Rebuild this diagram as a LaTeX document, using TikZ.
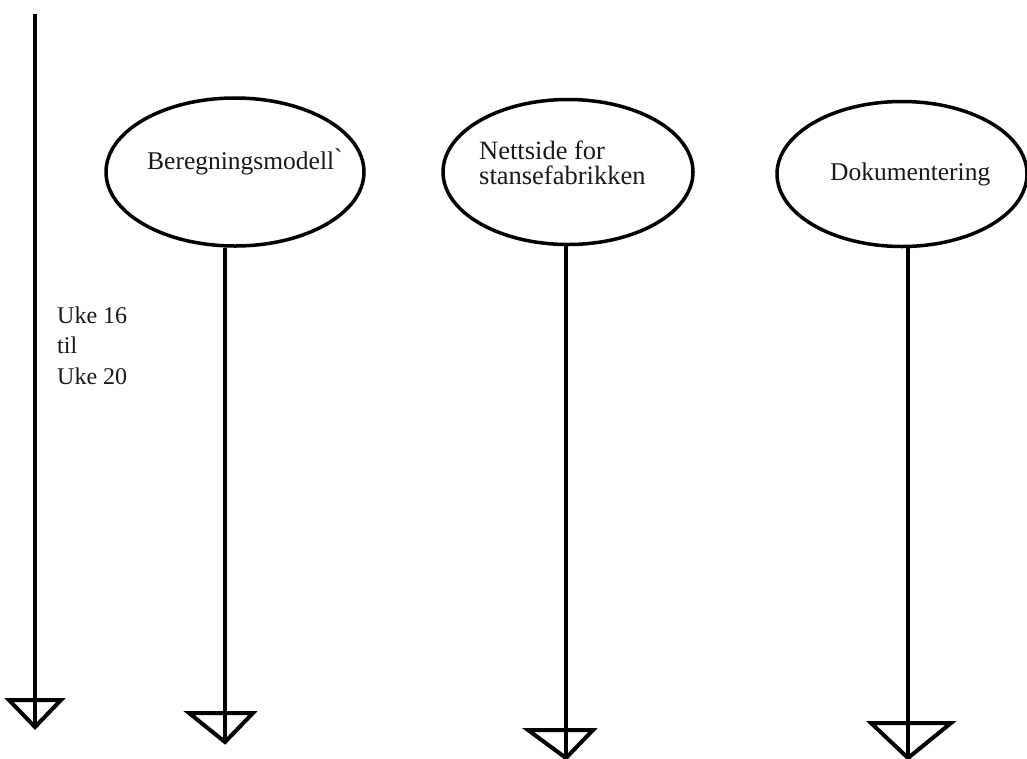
\documentclass[tikz,border=0pt]{standalone}
\usepackage{fontspec}
\setmainfont{Liberation Serif}
\usetikzlibrary{shapes.geometric}
\begin{document}
\begin{tikzpicture}[x=1pt,y=-1pt,
  oval/.style={ellipse,draw,line width=3.5pt,inner sep=0pt,minimum width=#1},
  stem/.style={line width=4pt},
  tip/.style={line width=4pt,line join=miter},
  lbl/.style={font=\fontsize{25.5}{26}\selectfont,inner sep=0pt,text=black!90}]
\useasboundingbox (0,0) rectangle (1027,758);
% ellipses
\node[oval=258pt,minimum height=148pt] (e1) at (235,172) {};
\node[oval=250pt,minimum height=145pt] (e2) at (568,172) {};
\node[oval=250pt,minimum height=145pt] (e3) at (902,174) {};
% texts
\node[lbl,anchor=base west] (t1) at (147,169) {Beregningsmodell\raisebox{3pt}{\textasciigrave}};
\node[lbl,anchor=north west,align=left,font=\fontsize{26.5}{25}\selectfont] (t2) at (479,141) {Nettside for\\stansefabrikken};
\node[lbl,anchor=base west] (t3) at (830,180) {Dokumentering};
\node[lbl,anchor=north west,align=left,font=\fontsize{24}{30.5}\selectfont] (t4) at (57,306.5) {Uke 16\\til\\Uke 20};
% coordinates
\coordinate (top0) at (35,14);
\coordinate (a0) at (35,727);
\coordinate (a1) at (225,742);
\coordinate (a2) at (566,758);
\coordinate (a3) at (908,758);
% stems
\draw[stem] (top0) -- (a0);
\draw[stem] (e1.south -| a1) -- (a1);
\draw[stem] (e2.south -| a2) -- (a2);
\draw[stem] (e3.south -| a3) -- (a3);
% open triangular heads
\draw[tip] (9,700) -- (61,700) -- (a0) -- cycle;
\draw[tip] (189,713) -- (253,713) -- (a1) -- cycle;
\draw[tip] (528,730) -- (593,730) -- (a2) -- cycle;
\draw[tip] (871,723) -- (951,723) -- (a3) -- cycle;
\end{tikzpicture}
\end{document}
